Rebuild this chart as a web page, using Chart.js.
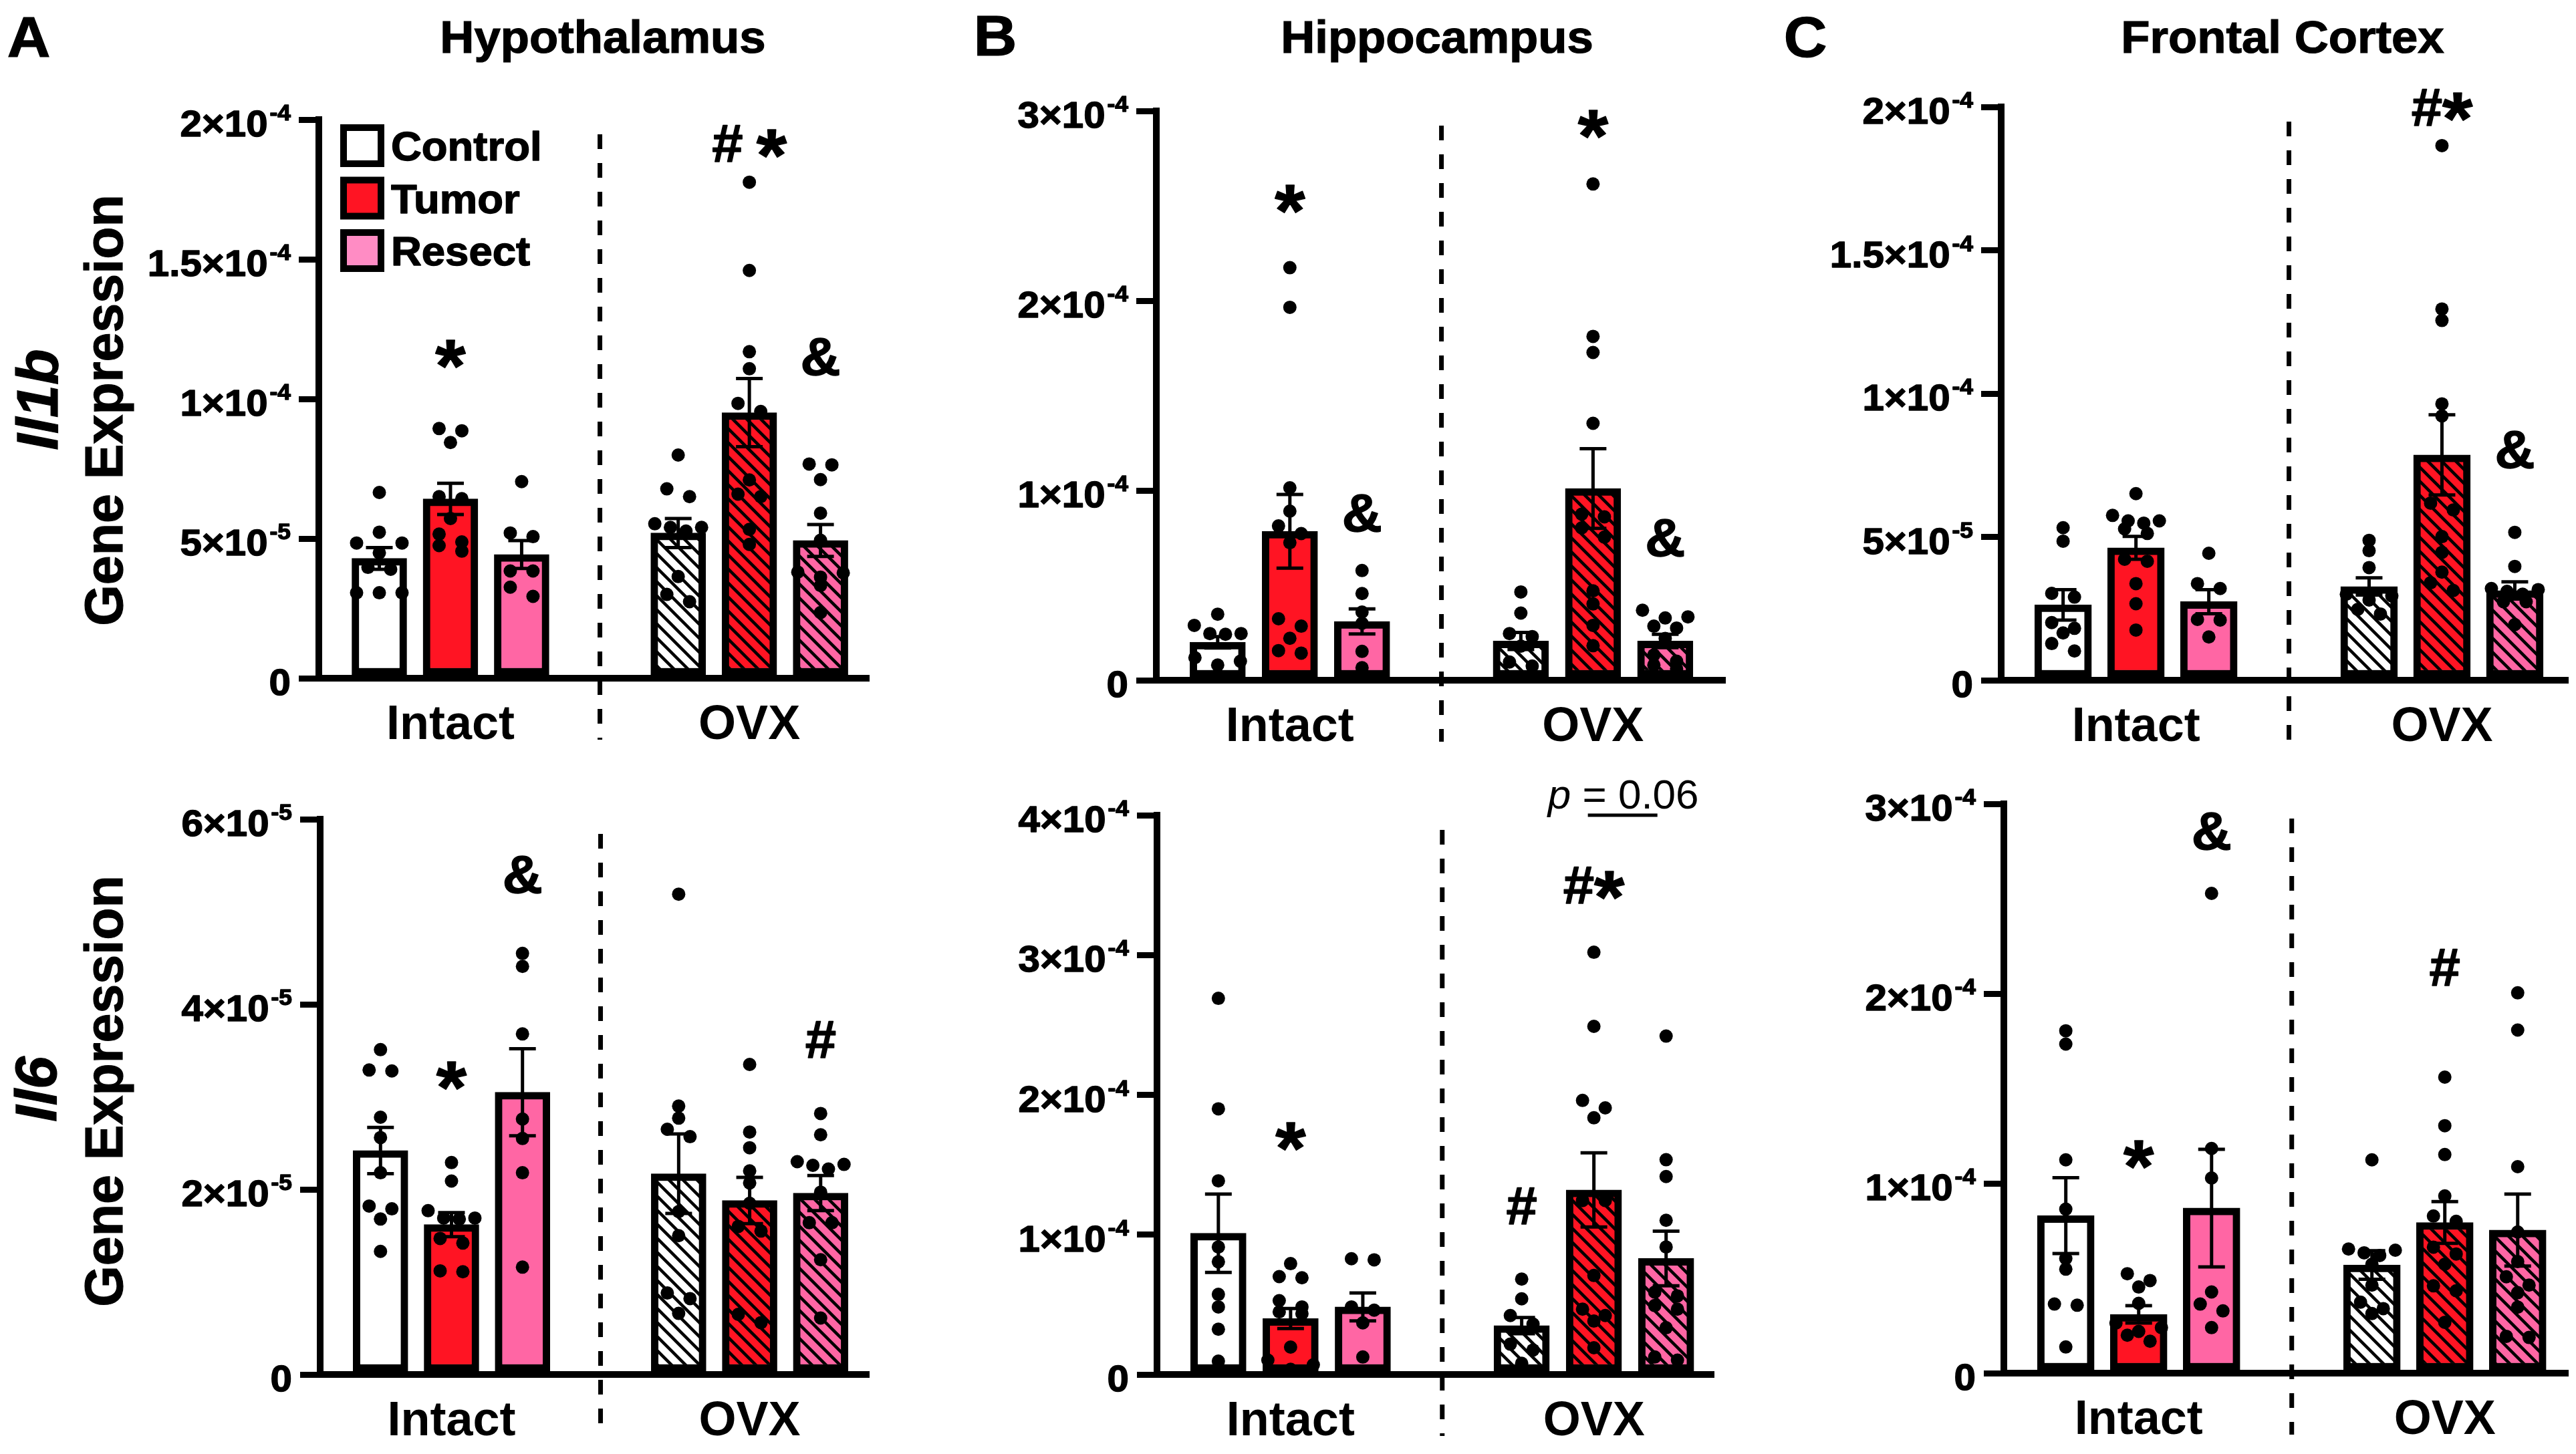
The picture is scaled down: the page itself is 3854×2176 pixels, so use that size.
<!DOCTYPE html>
<html>
<head>
<meta charset="utf-8">
<script src="https://cdn.jsdelivr.net/npm/chart.js@4.4.1/dist/chart.umd.min.js"></script>
<style>
  html, body { margin: 0; padding: 0; background: #fff; }
  body { width: 3854px; height: 2176px; position: relative; overflow: hidden; font-family: "Liberation Sans", Arial, sans-serif; }
  canvas { position: absolute; }
  .txt { position: absolute; color: #000; font-weight: bold; white-space: nowrap; line-height: 1; -webkit-text-stroke: 1.2px #000; }
  .wide { transform: translate(-50%, -50%) scaleX(1.04); }
  .vert { transform: translate(-50%, -50%) rotate(-90deg); }
</style>
</head>
<body>
<div class="txt wide" style="left:43px;top:55px;font-size:86px">A</div>
<div class="txt wide" style="left:1489px;top:53px;font-size:86px">B</div>
<div class="txt wide" style="left:2701px;top:55px;font-size:86px">C</div>
<div class="txt wide" style="left:902px;top:55px;font-size:68px">Hypothalamus</div>
<div class="txt wide" style="left:2150px;top:55px;font-size:68px">Hippocampus</div>
<div class="txt wide" style="left:3415px;top:55px;font-size:68px">Frontal Cortex</div>
<div class="txt vert" style="left:56px;top:598px;font-size:88px;font-style:italic">Il1b</div>
<div class="txt vert" style="left:155px;top:614px;font-size:79px">Gene Expression</div>
<div class="txt vert" style="left:54px;top:1630px;font-size:88px;font-style:italic">Il6</div>
<div class="txt vert" style="left:155px;top:1633px;font-size:79px">Gene Expression</div>
<script>
// every value below is in units of 10^-5
const UNIT = 1e-5
const groupNames = ['Control', 'Tumor', 'Resect']
const conditionNames = ['Intact', 'OVX']
// order of the 6 bars: Control, Tumor, Resect (Intact) then Control, Tumor, Resect (OVX)

// Hypothalamus - Il1b
const hypoIl1bMean = [4.29, 6.42, 4.43, 5.2, 9.51, 4.93]
const hypoIl1bSem = [0.39, 0.56, 0.5, 0.52, 1.22, 0.57]
const hypoIl1bPts = [
  [6.65, 5.23, 4.84, 4.84, 4.49, 3.97, 3.9, 3.06, 3.06, 3.06],
  [8.94, 8.86, 8.44, 6.5, 6.43, 5.72, 5.16, 4.88, 4.75, 4.55],
  [7.04, 5.2, 5.07, 3.84, 3.84, 3.26, 2.93],
  [7.99, 6.78, 6.5, 5.53, 5.4, 5.4, 5.27, 3.64, 3.0, 2.74],
  [17.76, 14.6, 11.69, 11.08, 9.84, 9.55, 7.1, 6.59, 6.5, 5.33, 4.79],
  [7.67, 7.64, 7.11, 5.91, 4.94, 3.8, 3.77, 3.62, 3.32, 2.35]
]

// Hypothalamus - Il6
const hypoIl6Mean = [2.42, 1.62, 3.05, 2.17, 1.88, 1.96]
const hypoIl6Sem = [0.25, 0.13, 0.47, 0.43, 0.25, 0.19]
const hypoIl6Pts = [
  [3.51, 3.29, 3.28, 2.78, 2.56, 2.18, 1.82, 1.79, 1.68, 1.33],
  [2.29, 2.09, 1.77, 1.69, 1.69, 1.68, 1.47, 1.42, 1.12, 1.11],
  [4.55, 4.41, 3.68, 2.76, 2.55, 2.18, 1.16],
  [5.19, 2.9, 2.77, 2.65, 2.57, 1.76, 1.5, 0.88, 0.82, 0.66],
  [3.35, 2.62, 2.45, 2.2, 2.07, 1.85, 1.6, 1.55, 0.65, 0.56],
  [2.82, 2.59, 2.3, 2.27, 2.26, 2.22, 1.97, 1.64, 1.64, 1.24, 0.61]
]

// Hippocampus - Il1b
const hippoIl1bMean = [2.0, 7.85, 3.1, 2.07, 10.1, 2.07]
const hippoIl1bSem = [0.3, 1.94, 0.66, 0.45, 2.1, 0.35]
const hippoIl1bPts = [
  [3.48, 2.89, 2.46, 2.46, 2.42, 1.19, 1.0, 0.8],
  [21.74, 19.65, 10.14, 8.91, 8.13, 7.73, 7.25, 3.24, 2.85, 2.21, 1.56, 1.43],
  [5.78, 4.57, 3.59, 3.0, 1.52, 0.66],
  [4.65, 3.54, 2.46, 2.3, 1.8, 0.96, 0.75],
  [26.15, 18.12, 17.27, 13.54, 8.75, 8.61, 8.03, 7.54, 4.71, 4.02, 2.89, 1.82],
  [3.69, 3.34, 3.28, 2.85, 2.75, 2.2, 1.33, 1.0, 0.8, 0.6]
]

// Hippocampus - Il6
const hippoIl6Mean = [10.1, 4.0, 4.83, 3.5, 13.2, 8.3]
const hippoIl6Sem = [2.8, 0.72, 1.0, 0.58, 2.65, 1.95]
const hippoIl6Pts = [
  [26.9, 19.0, 13.85, 9.12, 8.06, 5.73, 4.83, 3.24, 0.95],
  [7.93, 7.0, 6.92, 5.28, 4.83, 4.48, 4.35, 1.96, 1.03, 0.69, 0.37],
  [8.28, 8.2, 4.83, 4.6, 3.69, 1.25],
  [6.82, 5.41, 4.22, 3.61, 2.17, 1.75, 0.8],
  [30.2, 24.9, 19.6, 19.07, 18.36, 12.44, 12.44, 7.08, 4.67, 4.22, 3.82, 1.91],
  [24.2, 15.36, 14.16, 11.03, 9.12, 5.89, 5.62, 4.93, 4.67, 3.34, 1.25, 1.03]
]

// Frontal cortex - Il1b
const cortexIl1bMean = [2.63, 4.62, 2.74, 3.27, 7.86, 3.13]
const cortexIl1bSem = [0.53, 0.4, 0.42, 0.3, 1.4, 0.3]
const cortexIl1bPts = [
  [5.32, 4.85, 3.03, 2.9, 2.01, 1.81, 1.65, 1.28, 1.02],
  [6.51, 5.75, 5.56, 5.56, 5.48, 5.28, 5.12, 4.22, 4.15, 3.37, 2.67, 1.75],
  [4.43, 3.37, 3.2, 2.12, 2.1, 1.51],
  [4.88, 4.52, 3.93, 3.0, 2.94, 2.8, 2.47, 2.31],
  [18.65, 12.95, 12.55, 9.64, 9.22, 6.18, 5.94, 5.01, 4.46, 3.77, 3.4, 3.13],
  [5.16, 3.97, 3.2, 3.16, 3.1, 3.0, 2.74, 2.74, 1.94]
]

// Frontal cortex - Il6
const cortexIl6Mean = [8.3, 3.1, 8.7, 5.7, 7.94, 7.54]
const cortexIl6Sem = [2.0, 0.46, 3.1, 0.75, 1.1, 1.9]
const cortexIl6Pts = [
  [18.04, 17.34, 11.24, 8.64, 6.04, 5.48, 3.64, 3.58, 1.38],
  [5.24, 4.88, 4.54, 3.68, 2.64, 2.4, 2.2, 2.0, 1.68],
  [25.28, 11.84, 10.28, 4.28, 3.64, 3.28, 2.4],
  [11.24, 6.54, 6.48, 6.34, 6.2, 5.74, 4.64, 3.74, 3.4, 3.14],
  [15.6, 13.04, 11.52, 9.34, 8.28, 8.0, 6.64, 6.28, 5.74, 4.6, 4.34, 2.68],
  [20.04, 18.08, 10.88, 7.44, 5.88, 5.08, 4.64, 4.24, 3.48, 1.94, 1.88]
]

const FONT = '"Liberation Sans", Arial, Helvetica, sans-serif'
const STRETCH = 1.04
const red = '#ff1423'
const pink = '#ff66a4'
const pinkLegend = '#ff8cc4'
const groupColors = ['#ffffff', red, pink]
const legendColors = ['#ffffff', red, pinkLegend]

// x slots of the 6 bars on a linear axis, and the dashed separator
const slots = [1, 2, 3, 5.2, 6.2, 7.2]
const xMin = 0.15
const divider = 4.1

const panels = [
  { mean: hypoIl1bMean, sem: hypoIl1bSem, pts: hypoIl1bPts, yMax: 20, yStep: 5,
    area: { left: 477, right: 1300, top: 179, bottom: 1015 }, xMax: 7.88, barW: 82, legend: true,
    marks: [{ x: 2, y: 11.6, t: '*' }, { x: 6.2, y: 19.15, t: '# *' }, { x: 7.2, y: 11.5, t: '&' }] },
  { mean: hypoIl6Mean, sem: hypoIl6Sem, pts: hypoIl6Pts, yMax: 6, yStep: 2,
    area: { left: 479, right: 1300, top: 1226, bottom: 2057 }, xMax: 7.88, barW: 82,
    marks: [{ x: 3, y: 5.4, t: '&' }, { x: 2, y: 3.23, t: '*' }, { x: 7.2, y: 3.62, t: '#' }] },
  { mean: hippoIl1bMean, sem: hippoIl1bSem, pts: hippoIl1bPts, yMax: 30, yStep: 10,
    area: { left: 1730, right: 2581, top: 166, bottom: 1018 }, xMax: 8.03, barW: 83,
    marks: [{ x: 2, y: 25.35, t: '*' }, { x: 3, y: 8.8, t: '&' }, { x: 6.2, y: 29.3, t: '*' }, { x: 7.2, y: 7.5, t: '&' }] },
  { mean: hippoIl6Mean, sem: hippoIl6Sem, pts: hippoIl6Pts, yMax: 40, yStep: 10,
    area: { left: 1731, right: 2564, top: 1220, bottom: 2057 }, xMax: 7.86, barW: 83, pText: true,
    marks: [{ x: 2, y: 17.0, t: '*' }, { x: 5.2, y: 12.06, t: '#' }, { x: 6.2, y: 35.0, t: '#*' }] },
  { mean: cortexIl1bMean, sem: cortexIl1bSem, pts: cortexIl1bPts, yMax: 20, yStep: 5,
    area: { left: 2994, right: 3842, top: 160, bottom: 1018 }, xMax: 7.93, barW: 85,
    marks: [{ x: 6.2, y: 20.0, t: '#*' }, { x: 7.2, y: 8.04, t: '&' }] },
  { mean: cortexIl6Mean, sem: cortexIl6Sem, pts: cortexIl6Pts, yMax: 30, yStep: 10,
    area: { left: 2998, right: 3842, top: 1203, bottom: 2055 }, xMax: 7.89, barW: 85,
    marks: [{ x: 3, y: 28.56, t: '&' }, { x: 2, y: 11.5, t: '*' }, { x: 6.2, y: 21.4, t: '#' }] }
]

const bold = (px) => `bold ${px}px ${FONT}`

// draws text slightly widened and thickened, like the reference lettering
const wideText = (ctx, str, x, y, font, align) => {
  ctx.save()
  ctx.font = font
  const w = ctx.measureText(str).width * STRETCH
  let x0 = x
  if (align === 'center') x0 = x - w / 2
  else if (align === 'right') x0 = x - w
  ctx.translate(x0, y)
  ctx.scale(STRETCH, 1)
  ctx.textAlign = 'left'
  ctx.textBaseline = 'alphabetic'
  ctx.fillStyle = '#000'
  ctx.strokeStyle = '#000'
  ctx.lineWidth = 1.4
  ctx.lineJoin = 'round'
  ctx.fillText(str, 0, 0)
  ctx.strokeText(str, 0, 0)
  ctx.restore()
  return w
}

// tick label parts: mantissa + "×10" and exponent
const sciParts = (v) => {
  if (v === 0) return ['0', '']
  const real = v * UNIT
  const e = Math.floor(Math.log10(real) + 1e-9)
  const m = Math.round(real / Math.pow(10, e) * 100) / 100
  return [m + '×10', String(e)]
}

const markSize = { '#': 80, '&': 80, '*': 112, ' ': 70 }
const drawMark = (ctx, str, cx, cy) => {
  const parts = [...str].map((ch) => {
    ctx.font = bold(markSize[ch])
    const m = ctx.measureText(ch)
    return { ch, w: m.width * STRETCH, asc: m.actualBoundingBoxAscent, desc: m.actualBoundingBoxDescent }
  })
  const total = parts.reduce((s, q) => s + q.w, 0)
  let x = cx - total / 2
  parts.forEach((q) => {
    if (q.ch !== ' ') wideText(ctx, q.ch, x, cy + (q.asc - q.desc) / 2, bold(markSize[q.ch]), 'left')
    x += q.w
  })
}

// spread points that sit at nearly the same height, like a column scatter
const swarm = (values, slot, yMax, plotH, u) => {
  const thr = 15 * yMax / plotH
  const sorted = [...values].sort((a, b) => b - a)
  const out = []
  let i = 0
  while (i < sorted.length) {
    let j = i + 1
    while (j < sorted.length && sorted[i] - sorted[j] < thr) j++
    const grp = sorted.slice(i, j)
    const n = grp.length
    const sp = (n > 1 ? Math.min(34, 70 / (n - 1)) : 0) / u
    const order = []
    let lo = 0, hi = n - 1
    while (lo <= hi) {
      order.push(lo++)
      if (lo <= hi) order.push(hi--)
    }
    grp.forEach((v, k) => out.push({ x: slot + (order[k] - (n - 1) / 2) * sp, y: v }))
    i = j
  }
  return out
}

const makeHatch = (ctx, bg) => {
  const T = 21
  const tile = document.createElement('canvas')
  tile.width = T
  tile.height = T
  const g = tile.getContext('2d')
  g.fillStyle = bg
  g.fillRect(0, 0, T, T)
  g.strokeStyle = '#000'
  g.lineWidth = 4.5
  g.beginPath()
  for (let o = -T; o <= T; o += T) {
    g.moveTo(o - 3, -3)
    g.lineTo(o + T + 3, T + 3)
  }
  g.stroke()
  return ctx.createPattern(tile, 'repeat')
}

const decor = (p) => ({
  id: 'decor',
  beforeDatasetsDraw(chart) {
    const { ctx, chartArea } = chart
    const x = chart.scales.x.getPixelForValue(divider)
    ctx.save()
    ctx.strokeStyle = '#000'
    ctx.lineWidth = 7
    ctx.setLineDash([22, 21])
    ctx.beginPath()
    ctx.moveTo(x, chartArea.top + 22)
    ctx.lineTo(x, chartArea.bottom + 92)
    ctx.stroke()
    ctx.restore()
  },
  afterDatasetDraw(chart, args) {
    if (args.meta.type !== 'bar') return
    const { ctx } = chart
    const xs = chart.scales.x, ys = chart.scales.y
    const g = args.index
    ctx.save()
    ctx.strokeStyle = '#000'
    ctx.lineWidth = 5
    conditionNames.forEach((c, j) => {
      const k = j * 3 + g
      const x = xs.getPixelForValue(slots[k])
      const yHi = ys.getPixelForValue(p.mean[k] + p.sem[k])
      const yLo = ys.getPixelForValue(p.mean[k] - p.sem[k])
      ctx.beginPath()
      ctx.moveTo(x, yHi); ctx.lineTo(x, yLo)
      ctx.moveTo(x - 20, yHi); ctx.lineTo(x + 20, yHi)
      ctx.moveTo(x - 20, yLo); ctx.lineTo(x + 20, yLo)
      ctx.stroke()
    })
    ctx.restore()
  },
  afterDraw(chart) {
    const { ctx, chartArea } = chart
    const xs = chart.scales.x, ys = chart.scales.y
    // y tick labels with superscript exponent
    ys.ticks.forEach((t) => {
      const [mant, expo] = sciParts(t.value)
      const base = ys.getPixelForValue(t.value) + 0.358 * 56 + 5
      const right = chartArea.left - 42
      if (!expo) {
        wideText(ctx, mant, right, base, bold(56), 'right')
      } else {
        const we = wideText(ctx, expo, right, base - 24, bold(34), 'right')
        wideText(ctx, mant, right - we - 3, base, bold(56), 'right')
      }
    })
    // significance marks
    p.marks.forEach((m) => drawMark(ctx, m.t, xs.getPixelForValue(m.x), ys.getPixelForValue(m.y)))
    if (p.legend) {
      groupNames.forEach((name, g) => {
        const cy = chartArea.top + 39 + g * 78.5
        const bx = chartArea.left + 32
        ctx.fillStyle = '#000'
        ctx.fillRect(bx, cy - 32, 66, 64)
        ctx.fillStyle = legendColors[g]
        ctx.fillRect(bx + 10, cy - 22, 46, 44)
        wideText(ctx, name, chartArea.left + 108, cy + 22, bold(61), 'left')
      })
    }
    if (p.pText) {
      const x1 = xs.getPixelForValue(slots[4]), x2 = xs.getPixelForValue(slots[5])
      const cx = (x1 + x2) / 2 - 10
      const base = chartArea.top - 10
      ctx.save()
      ctx.fillStyle = '#000'
      ctx.font = `italic 62px ${FONT}`
      const wp = ctx.measureText('p').width
      ctx.font = `62px ${FONT}`
      const wr = ctx.measureText(' = 0.06').width
      const x0 = cx - (wp + wr) / 2
      ctx.textBaseline = 'alphabetic'
      ctx.font = `italic 62px ${FONT}`
      ctx.fillText('p', x0, base)
      ctx.font = `62px ${FONT}`
      ctx.fillText(' = 0.06', x0 + wp, base)
      ctx.strokeStyle = '#000'
      ctx.lineWidth = 5
      ctx.beginPath()
      ctx.moveTo(x1 - 9, chartArea.top)
      ctx.lineTo(x2 - 13, chartArea.top)
      ctx.stroke()
      ctx.restore()
    }
  }
})

const buildPanel = (p) => {
  const padL = 330, padT = 165, padR = 16, padB = 115
  const a = p.area
  const W = a.right - a.left + padL + padR
  const H = a.bottom - a.top + padT + padB
  const canvas = document.createElement('canvas')
  canvas.width = W
  canvas.height = H
  canvas.style.left = (a.left - padL) + 'px'
  canvas.style.top = (a.top - padT) + 'px'
  canvas.style.width = W + 'px'
  canvas.style.height = H + 'px'
  document.body.appendChild(canvas)
  const ctx = canvas.getContext('2d')
  const plotH = a.bottom - a.top
  const u = (a.right - a.left) / (p.xMax - xMin)

  const barSets = groupNames.map((name, g) => ({
    type: 'bar',
    label: name,
    order: 2,
    grouped: false,
    data: conditionNames.map((c, j) => ({ x: slots[j * 3 + g], y: p.mean[j * 3 + g] })),
    backgroundColor: [groupColors[g], makeHatch(ctx, groupColors[g])],
    borderColor: '#000',
    borderWidth: 11,
    borderSkipped: false,
    barThickness: p.barW
  }))
  const dots = []
  p.pts.forEach((vals, k) => dots.push(...swarm(vals, slots[k], p.yMax, plotH, u)))

  new Chart(ctx, {
    type: 'bar',
    data: {
      datasets: [...barSets, {
        type: 'scatter',
        label: 'animals',
        order: 0,
        data: dots,
        pointRadius: 10,
        pointHoverRadius: 10,
        pointBackgroundColor: '#000',
        pointBorderWidth: 0,
        clip: false
      }]
    },
    options: {
      responsive: false,
      animation: false,
      devicePixelRatio: 1,
      events: [],
      layout: { padding: { left: 0, top: padT, right: padR, bottom: 0 } },
      plugins: { legend: { display: false }, tooltip: { enabled: false } },
      scales: {
        x: {
          type: 'linear',
          min: xMin,
          max: p.xMax,
          offset: false,
          afterBuildTicks: (s) => { s.ticks = [slots[1], slots[4]].map((v) => ({ value: v })) },
          afterFit: (s) => { s.height = padB },
          grid: { display: false, drawTicks: false },
          border: { display: true, width: 10, color: '#000' },
          ticks: {
            autoSkip: false,
            maxRotation: 0,
            padding: 28,
            color: '#000',
            font: { family: FONT, size: 72, weight: 'bold' },
            callback: (v, i) => conditionNames[i]
          }
        },
        y: {
          min: 0,
          max: p.yMax,
          afterFit: (s) => { s.width = padL },
          grid: { drawOnChartArea: false, drawTicks: true, tickLength: 30, lineWidth: 9, color: '#000' },
          border: { display: true, width: 10, color: '#000' },
          ticks: { display: false, stepSize: p.yStep }
        }
      }
    },
    plugins: [decor(p)]
  })
}

panels.forEach(buildPanel)
</script>
</body>
</html>
